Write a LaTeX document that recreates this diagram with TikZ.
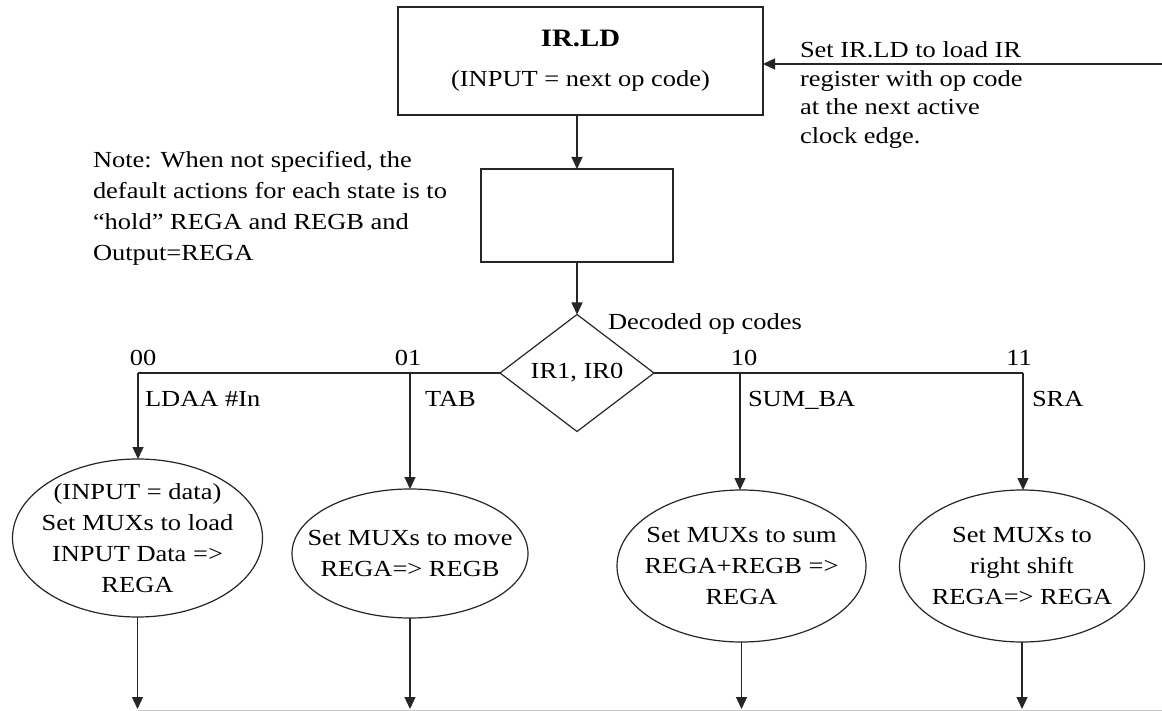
\documentclass[tikz,border=0pt]{standalone}
\usepackage{fontspec}
\setmainfont{Liberation Serif}[FakeStretch=1.15]
\usetikzlibrary{shapes.geometric,arrows.meta}
\begin{document}
\begin{tikzpicture}[x=1pt,y=-1pt,
  line/.style={draw=black!85, line width=1.3pt},
  arr/.style={line, -{Triangle[length=12pt,width=11pt]}},
  boxnode/.style={draw=black!85, line width=1.3pt, rectangle, inner sep=0pt, outer sep=0pt},
  ell/.style={draw=black!85, line width=1.2pt, ellipse, inner sep=0pt, outer sep=0pt},
  txt/.style={font=\fontsize{23}{31}\selectfont, inner sep=0pt, outer sep=0pt},
  etxt/.style={txt, align=center},
  lab/.style={txt}
]
\useasboundingbox (0,0) rectangle (1162,711);
\fill[white] (0,0) rectangle (1162,711);

% top box
\node[boxnode, minimum width=365pt, minimum height=108pt, align=center,
      font=\fontsize{23}{28}\selectfont] (top) at (580.5,61)
  {{\fontsize{25}{28}\selectfont\bfseries IR.LD}\\[12pt](INPUT = next op code)};

% right note
\coordinate (rin) at (1162,64);
\node[txt, anchor=north west, align=left, font=\fontsize{23}{28.5}\selectfont] (rnote) at (800,42)
  {Set IR.LD to load IR\\register with op code\\at the next active\\clock edge.};
\draw[arr] (rin) -- (rin -| top.east);

% left note
\node[txt, anchor=north west, align=left] (lnote) at (93,151)
  {Note: When not specified, the\\default actions for each state is to\\“hold” REGA and REGB and\\Output=REGA};

% second box
\node[boxnode, minimum width=192pt, minimum height=93pt] (sec) at (577,215.5) {};
\draw[arr] (top.south -| sec.north) -- (sec.north);

% diamond
\node[draw=black!85, line width=1.2pt, diamond, aspect=1.316, minimum width=154pt,
      minimum height=117pt, inner sep=0pt, outer sep=0pt, txt] (dia) at (577,373) {IR1, IR0};
\draw[arr] (sec.south) -- (dia.north);
\node[txt, anchor=base west] (dec) at (608,330) {Decoded op codes};

% branch corners
\coordinate (c00) at (138,373);
\coordinate (c01) at (410,373);
\coordinate (c10) at (740,373);
\coordinate (c11) at (1023,373);

% ellipses
\node[ell, minimum width=250pt, minimum height=158pt] (e1) at (137.5,538) {};
\node[etxt] (t1) at (e1) {(INPUT = data)\\Set MUXs to load\\INPUT Data =>\\REGA};
\node[ell, minimum width=236pt, minimum height=129pt] (e2) at (410,553.5) {};
\node[etxt] (t2) at (e2) {Set MUXs to move\\REGA=> REGB};
\node[ell, minimum width=249pt, minimum height=152pt] (e3) at (741.5,566) {};
\node[etxt] (t3) at (e3) {Set MUXs to sum\\REGA+REGB =>\\REGA};
\node[ell, minimum width=245pt, minimum height=152pt] (e4) at (1022,566) {};
\node[etxt] (t4) at (e4) {Set MUXs to\\right shift\\REGA=> REGA};

% branch lines
\draw[line] (dia.west) -- (c00);
\draw[line] (dia.east) -- (c11);
\draw[arr] (c00) -- (c00 |- e1.north);
\draw[arr] (c01) -- (c01 |- e2.north);
\draw[arr] (c10) -- (c10 |- e3.north);
\draw[arr] (c11) -- (c11 |- e4.north);

% code labels
\node[lab, anchor=base] (l00) at (143,366) {00};
\node[lab, anchor=base] (l01) at (408,366) {01};
\node[lab, anchor=base] (l10) at (744,366) {10};
\node[lab, anchor=base] (l11) at (1019,366) {11};
\node[lab, anchor=base west] (n00) at (145,406) {LDAA \#In};
\node[lab, anchor=base west] (n01) at (425,406) {TAB};
\node[lab, anchor=base west] (n10) at (748,406) {SUM\_BA};
\node[lab, anchor=base west] (n11) at (1032,406) {SRA};

% bottom
\coordinate (bot) at (0,709);
\draw[arr] (e1.south) -- (e1.south |- bot);
\draw[arr] (e2.south) -- (e2.south |- bot);
\draw[arr] (e3.south) -- (e3.south |- bot);
\draw[arr] (e4.south) -- (e4.south |- bot);
\coordinate (g0) at (138,710.3);
\coordinate (g1) at (1162,710.3);
\draw[gray!45, line width=1pt] (g0) -- (g1);
\end{tikzpicture}
\end{document}
